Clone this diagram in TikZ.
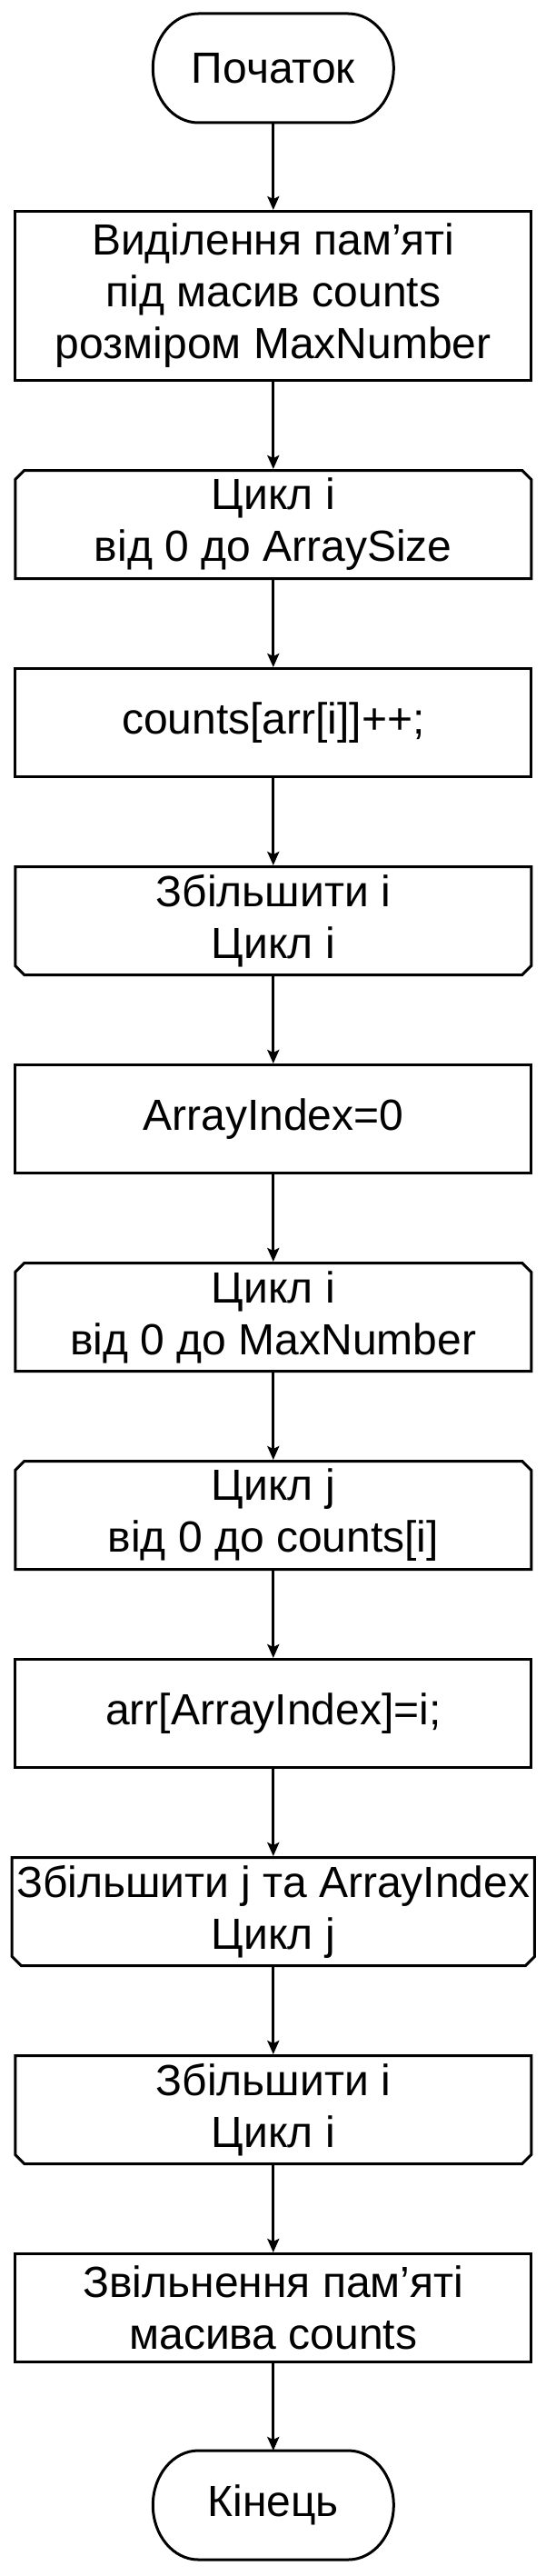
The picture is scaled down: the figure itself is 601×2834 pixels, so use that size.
\documentclass[tikz,border=0pt]{standalone}
\usepackage{fontspec}
\setmainfont{Liberation Sans}
\usetikzlibrary{arrows.meta,positioning,shapes.misc}

\tikzset{
  frame/.style={line width=3pt},
  term/.style={minimum width=265pt,minimum height=120pt,outer sep=0pt,align=center},
  proc/.style={frame,draw,rectangle,minimum width=568pt,minimum height=119pt,align=center,inner sep=0pt},
  loopbeg/.style={proc,chamfered rectangle,chamfered rectangle xsep=5pt,chamfered rectangle ysep=5pt,
    chamfered rectangle corners={north west,north east}},
  loopend/.style={proc,chamfered rectangle,chamfered rectangle xsep=5pt,chamfered rectangle ysep=5pt,
    chamfered rectangle corners={south west,south east}},
  arrow/.style={line width=2.8pt,-{Stealth[length=15pt,width=13pt,inset=3pt]}}
}
% stadium outline round a terminator node
\newcommand{\termframe}[1]{%
  \draw[frame] ([xshift=50pt]#1.north west) -- ([xshift=-50pt]#1.north east)
    arc[start angle=90,end angle=-90,x radius=50pt,y radius=60pt]
    -- ([xshift=50pt]#1.south west)
    arc[start angle=270,end angle=90,x radius=50pt,y radius=60pt] -- cycle;}

\begin{document}
\begin{tikzpicture}[x=1pt,y=1pt,node distance=96pt,
  font=\fontsize{48}{57}\selectfont]
\useasboundingbox (0,0) rectangle (601,-2834);
% start
\node[term] (start) at (300.8,-75) {Початок};
\termframe{start}
% counting
\node[proc,minimum height=186pt,below=of start] (alloc) {Виділення пам’яті\\під масив counts\\розміром MaxNumber};
\node[loopbeg,below=of alloc] (loopA) {Цикл і\\від 0 до ArraySize};
\node[proc,below=of loopA] (count) {counts[arr[i]]++;};
\node[loopend,below=of count] (endA) {Збільшити і\\Цикл і};
% rebuilding
\node[proc,below=of endA] (init) {ArrayIndex=0};
\node[loopbeg,below=of init] (loopI) {Цикл і\\від 0 до MaxNumber};
\node[loopbeg,below=of loopI] (loopJ) {Цикл j\\від 0 до counts[i]};
\node[proc,below=of loopJ] (store) {arr[ArrayIndex]=i;};
\node[loopend,below=of store] (endJ) {Збільшити j та ArrayIndex\\Цикл j};
\node[loopend,below=of endJ] (endI) {Збільшити і\\Цикл і};
\node[proc,below=of endI] (free) {Звільнення пам’яті\\масива counts};
% end
\node[term,below=of free] (stop) {Кінець};
\termframe{stop}
% connectors
\draw[arrow] (start.south) -- (alloc.north);
\draw[arrow] (alloc.south) -- (loopA.north);
\draw[arrow] (loopA.south) -- (count.north);
\draw[arrow] (count.south) -- (endA.north);
\draw[arrow] (endA.south) -- (init.north);
\draw[arrow] (init.south) -- (loopI.north);
\draw[arrow] (loopI.south) -- (loopJ.north);
\draw[arrow] (loopJ.south) -- (store.north);
\draw[arrow] (store.south) -- (endJ.north);
\draw[arrow] (endJ.south) -- (endI.north);
\draw[arrow] (endI.south) -- (free.north);
\draw[arrow] (free.south) -- (stop.north);
\end{tikzpicture}
\end{document}
